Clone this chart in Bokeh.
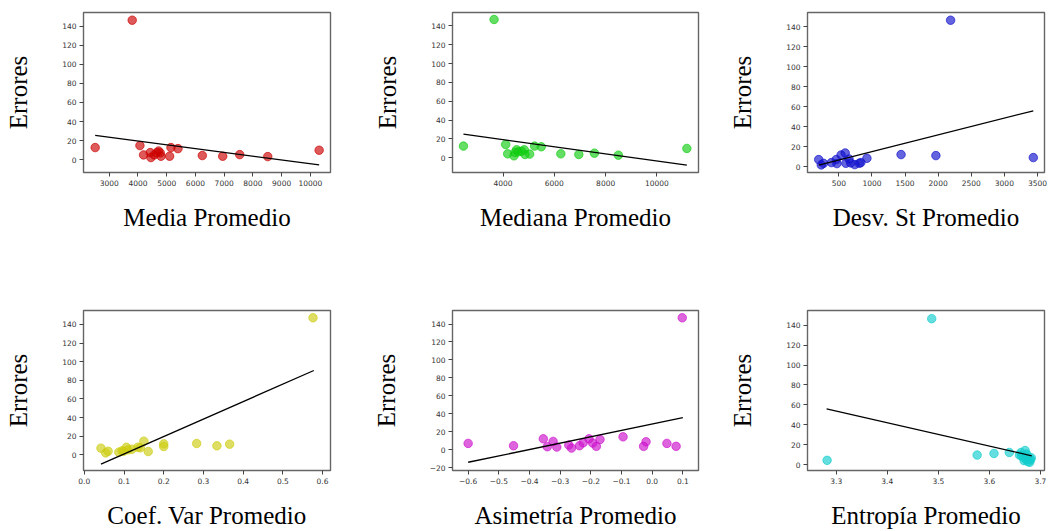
from bokeh.plotting import figure
from bokeh.layouts import column, row
from bokeh.models import Range1d, FixedTicker
from bokeh.embed import file_html
from bokeh.resources import INLINE

# ---------------- data ----------------
media_x = [2512, 3801, 4069, 4196, 4428, 4452, 4568, 4661, 4719, 4777, 4800, 5102, 5149, 5393, 6240, 6949, 7541, 8517, 10305]
media_y = [12.6, 146.5, 14.7, 4.9, 7.3, 2.1, 4.9, 7.3, 9.0, 7.0, 3.5, 3.5, 12.6, 11.5, 4.2, 3.5, 5.2, 3.1, 9.8]
media_trend_x = [2512, 10305]
media_trend_y = [25.5, -5.6]

mediana_x = [2457, 3650, 4103, 4181, 4427, 4466, 4530, 4595, 4725, 4828, 4854, 5036, 5230, 5489, 6253, 6953, 7562, 8495, 11165]
mediana_y = [12.4, 146.7, 14.1, 4.2, 2.1, 5.7, 8.5, 6.4, 7.0, 8.5, 3.5, 3.9, 12.4, 11.7, 4.2, 3.5, 4.9, 2.8, 9.9]
mediana_trend_x = [2457, 11165]
mediana_trend_y = [25.1, -7.8]

desv_x = [196, 235, 269, 389, 461, 471, 534, 596, 606, 654, 678, 741, 809, 833, 924, 1440, 1966, 2188, 3437]
desv_y = [7.3, 2.0, 3.6, 4.3, 7.3, 3.3, 11.9, 13.9, 3.6, 8.0, 4.0, 2.3, 3.6, 4.3, 8.6, 12.3, 11.3, 146.6, 9.3]
desv_trend_x = [196, 3437]
desv_trend_y = [1.7, 56.1]

coef_x = [0.042, 0.054, 0.060, 0.087, 0.095, 0.099, 0.106, 0.110, 0.120, 0.135, 0.141, 0.150, 0.161, 0.200, 0.200, 0.283, 0.334, 0.366, 0.576]
coef_y = [7.2, 2.1, 3.9, 2.9, 4.3, 3.9, 8.2, 5.4, 6.0, 8.2, 7.5, 14.7, 3.6, 11.8, 9.0, 12.2, 9.7, 11.5, 147.2]
coef_trend_x = [0.042, 0.578]
coef_trend_y = [-10.0, 90.6]

asim_x = [-0.600, -0.452, -0.355, -0.342, -0.323, -0.311, -0.272, -0.263, -0.237, -0.225, -0.206, -0.194, -0.182, -0.170, -0.095, -0.028, -0.020, 0.048, 0.078, 0.098]
asim_y = [7.0, 4.4, 12.1, 3.3, 9.2, 2.9, 5.1, 1.8, 4.4, 7.7, 12.1, 7.4, 3.7, 11.4, 14.3, 3.7, 8.8, 7.0, 3.7, 147.0]
asim_trend_x = [-0.600, 0.100]
asim_trend_y = [-14.0, 35.6]

entropia_x = [3.282, 3.487, 3.576, 3.609, 3.639, 3.659, 3.662, 3.663, 3.667, 3.668, 3.670, 3.672, 3.673, 3.674, 3.676, 3.678, 3.679, 3.681, 3.682]
entropia_y = [4.3, 146.6, 9.6, 11.2, 12.2, 9.6, 12.2, 8.9, 7.3, 4.0, 14.2, 5.0, 10.6, 8.3, 3.0, 6.3, 2.3, 5.0, 6.9]
entropia_trend_x = [3.281, 3.683]
entropia_trend_y = [56.1, 8.9]

# tick values and labels
y_ticks = [0, 20, 40, 60, 80, 100, 120, 140]
y_tick_labels = ["0", "20", "40", "60", "80", "100", "120", "140"]
y_ticks_asim = [-20, 0, 20, 40, 60, 80, 100, 120, 140]
y_tick_labels_asim = ["\u221220", "0", "20", "40", "60", "80", "100", "120", "140"]

media_ticks = [3000, 4000, 5000, 6000, 7000, 8000, 9000, 10000]
media_tick_labels = ["3000", "4000", "5000", "6000", "7000", "8000", "9000", "10000"]
mediana_ticks = [4000, 6000, 8000, 10000]
mediana_tick_labels = ["4000", "6000", "8000", "10000"]
desv_ticks = [500, 1000, 1500, 2000, 2500, 3000, 3500]
desv_tick_labels = ["500", "1000", "1500", "2000", "2500", "3000", "3500"]
coef_ticks = [0.0, 0.1, 0.2, 0.3, 0.4, 0.5, 0.6]
coef_tick_labels = ["0.0", "0.1", "0.2", "0.3", "0.4", "0.5", "0.6"]
asim_ticks = [-0.6, -0.5, -0.4, -0.3, -0.2, -0.1, 0.0, 0.1]
asim_tick_labels = ["\u22120.6", "\u22120.5", "\u22120.4", "\u22120.3", "\u22120.2", "\u22120.1", "0.0", "0.1"]
entropia_ticks = [3.3, 3.4, 3.5, 3.6, 3.7]
entropia_tick_labels = ["3.3", "3.4", "3.5", "3.6", "3.7"]

y_label = "Errores"
x_labels = ["Media Promedio", "Mediana Promedio", "Desv. St Promedio",
            "Coef. Var Promedio", "Asimetría Promedio", "Entropía Promedio"]

# ---------------- styling / layout ----------------
SERIF = "Liberation Serif"
SANS = "DejaVu Sans"

col_geom = [  # width, min_border_left, min_border_right
    (365, 83, 35),
    (361, 87, 28),
    (326, 77, 8),
]
row_geom = [  # height, min_border_top, min_border_bottom, x label standoff
    (268, 12, 96, 15),
    (263, 42, 61, 15),
]


def make_panel(xs, ys, tx, ty, color, xr, yr, xt, xtl, yt, ytl, xlabel, col, rw):
    w, bl, br = col_geom[col]
    h, bt, bb, xstand = row_geom[rw]
    p = figure(width=w, height=h, output_backend="svg", toolbar_location=None,
               x_range=Range1d(*xr), y_range=Range1d(*yr), title=None,
               min_border_left=bl, min_border_right=br,
               min_border_top=bt, min_border_bottom=bb)
    p.background_fill_color = "white"
    p.border_fill_color = "white"
    p.outline_line_color = "#666666"
    p.outline_line_width = 1.4
    p.grid.visible = False
    p.scatter(xs, ys, size=8.5, fill_color=color, line_color=color,
              fill_alpha=0.65, line_alpha=0.65)
    p.line(tx, ty, line_color="black", line_width=1.3)

    p.xaxis.ticker = FixedTicker(ticks=xt)
    p.xaxis.major_label_overrides = dict(zip(xt, xtl))
    p.yaxis.ticker = FixedTicker(ticks=yt)
    p.yaxis.major_label_overrides = dict(zip(yt, ytl))
    for ax in (p.xaxis, p.yaxis):
        ax.axis_line_color = None
        ax.major_tick_in = 0
        ax.major_tick_out = 4
        ax.major_tick_line_color = "#444444"
        ax.minor_tick_line_color = None
        ax.major_label_text_font = SANS
        ax.major_label_text_font_size = "7.5px"
        ax.major_label_text_color = "#333333"
        ax.major_label_standoff = 3
        ax.axis_label_text_font = SERIF
        ax.axis_label_text_font_style = "normal"
        ax.axis_label_text_font_size = "25px"
        ax.axis_label_text_color = "black"
    p.xaxis.axis_label = xlabel
    p.xaxis.axis_label_standoff = xstand
    p.yaxis.axis_label = y_label
    p.yaxis.axis_label_standoff = 27
    return p


p1 = make_panel(media_x, media_y, media_trend_x, media_trend_y, "#cc0000",
                (2106, 10700), (-13.6, 154.6), media_ticks, media_tick_labels,
                y_ticks, y_tick_labels, x_labels[0], 0, 0)
p2 = make_panel(mediana_x, mediana_y, mediana_trend_x, mediana_trend_y, "#11cc11",
                (2030, 11619), (-15.6, 154.1), mediana_ticks, mediana_tick_labels,
                y_ticks, y_tick_labels, x_labels[1], 1, 0)
p3 = make_panel(desv_x, desv_y, desv_trend_x, desv_trend_y, "#1111cc",
                (27, 3606), (-5.6, 154.3), desv_ticks, desv_tick_labels,
                y_ticks, y_tick_labels, x_labels[2], 2, 0)
p4 = make_panel(coef_x, coef_y, coef_trend_x, coef_trend_y, "#cccc11",
                (-0.002, 0.620), (-16.8, 155.0), coef_ticks, coef_tick_labels,
                y_ticks, y_tick_labels, x_labels[3], 0, 1)
p5 = make_panel(asim_x, asim_y, asim_trend_x, asim_trend_y, "#cc11cc",
                (-0.651, 0.151), (-23.2, 155.1), asim_ticks, asim_tick_labels,
                y_ticks_asim, y_tick_labels_asim, x_labels[4], 1, 1)
p6 = make_panel(entropia_x, entropia_y, entropia_trend_x, entropia_trend_y, "#11cccc",
                (3.2436, 3.708), (-5.9, 154.8), entropia_ticks, entropia_tick_labels,
                y_ticks, y_tick_labels, x_labels[5], 2, 1)

layout = column(row(p1, p2, p3), row(p4, p5, p6))

with open("out.html", "w") as f:
    f.write(file_html(layout, INLINE))
